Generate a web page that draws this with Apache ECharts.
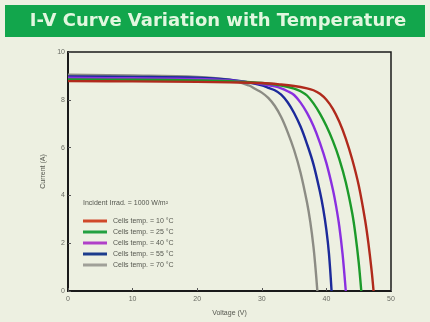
<!DOCTYPE html>
<html><head><meta charset="utf-8">
<script src="https://cdn.jsdelivr.net/npm/echarts@6/dist/echarts.min.js"></script>
<style>html,body{margin:0;padding:0;background:#edf0e1;}#c{width:430px;height:322px;}</style>
</head><body><div id="c"></div>
<script>
const titleText = "I-V Curve Variation with Temperature";
const legendHeader = "Incident Irrad. = 1000 W/m²";
const seriesNames = ["Cells temp. = 10 °C","Cells temp. = 25 °C","Cells temp. = 40 °C","Cells temp. = 55 °C","Cells temp. = 70 °C"];
const seriesColors = ["#b02a1c","#1c9a2a","#8a30e0","#1c2a9a","#8c8c84"];
const legendColors = ["#d0482a","#22a040","#b040c8","#1c3c8c","#a0a098"];
const xTicks = [0,10,20,30,40,50];
const yTicks = [0,2,4,6,8,10];

const v10 = [0,10,20,25,30,33,35,37,38,39,40,41,42,43,44,45,46,46.5,47,47.3];
const i10 = [8.78,8.77,8.75,8.73,8.70,8.64,8.58,8.48,8.40,8.25,8.0,7.62,7.08,6.38,5.5,4.42,2.95,2.0,0.85,0];
const v25 = [0,10,20,25,30,33,35,36,37,38,39,40,41,42,43,44,44.5,45,45.4];
const i25 = [8.85,8.84,8.81,8.78,8.70,8.6,8.47,8.36,8.18,7.85,7.42,6.9,6.28,5.52,4.55,3.25,2.35,1.2,0];
const v40 = [0,10,20,25,28,30,32,33,34,35,36,37,38,39,40,41,41.5,42,42.5,43];
const i40 = [8.92,8.9,8.87,8.81,8.73,8.66,8.56,8.48,8.36,8.2,7.88,7.45,6.9,6.2,5.35,4.25,3.55,2.7,1.55,0];
const v55 = [0,10,20,25,28,30,31,32,33,34,35,36,37,38,39,39.5,40,40.4,40.8];
const i55 = [8.98,8.96,8.92,8.84,8.72,8.6,8.5,8.4,8.22,7.9,7.45,6.88,6.15,5.3,4.15,3.45,2.55,1.55,0];
const v70 = [0,10,20,25,28,29,30,31,32,33,34,35,36,37,37.5,38,38.3,38.6];
const i70 = [9.05,9.02,8.96,8.84,8.6,8.45,8.3,8.08,7.75,7.28,6.65,5.9,4.95,3.7,2.9,1.85,1.0,0];

const allV = [v10,v25,v40,v55,v70];
const allI = [i10,i25,i40,i55,i70];

const chart = echarts.init(document.getElementById('c'));
const series = seriesNames.map((n,k)=>({
  name:n, type:'line', showSymbol:false, smooth:0.35,
  data: allV[k].map((v,j)=>[v, allI[k][j]]),
  lineStyle:{color:seriesColors[k], width:2.4},
  itemStyle:{color:legendColors[k]},
  z: 5 - k
}));
chart.setOption({
  backgroundColor:'#edf0e1',
  animation:false,
  graphic:[
    {type:'rect', shape:{x:5,y:5,width:420,height:32}, style:{fill:'#12a64c'}},
    {type:'text', x:218, y:21, style:{text:titleText, fill:'#e2f7df', font:'bold 18px "DejaVu Sans"', align:'center', verticalAlign:'middle'}},
    {type:'text', x:83, y:203, style:{text:legendHeader, fill:'#55574f', font:'7px "Liberation Sans"', verticalAlign:'middle'}, z:10}
  ],
  grid:{left:68,right:39,top:52,bottom:25,show:true,borderColor:'#1a1a1a',borderWidth:1.5,backgroundColor:'transparent'},
  legend:{
    orient:'vertical', left:78, top:212, itemWidth:24, itemHeight:3, itemGap:3, icon:'rect',
    data: seriesNames.map((n,k)=>({name:n, itemStyle:{color:legendColors[k]}})),
    textStyle:{fontSize:7, color:'#55574f', fontFamily:'Liberation Sans', lineHeight:8, padding:[0,0,0,1]}
  },
  xAxis:{type:'value', min:0, max:50, interval:10, name:'Voltage (V)', nameLocation:'middle', nameGap:19,
    nameTextStyle:{fontSize:7,color:'#55574f',fontFamily:'Liberation Sans'},
    axisLine:{lineStyle:{color:'#1a1a1a',width:2}}, axisTick:{inside:true,length:3,lineStyle:{color:'#555'}},
    axisLabel:{fontSize:7,color:'#6a6c64',margin:5,fontFamily:'Liberation Sans'}, splitLine:{show:false}},
  yAxis:{type:'value', min:0, max:10, interval:2, name:'Current (A)', nameLocation:'middle', nameGap:20,
    nameTextStyle:{fontSize:7,color:'#55574f',fontFamily:'Liberation Sans'},
    axisLine:{lineStyle:{color:'#1a1a1a',width:2}}, axisTick:{inside:true,length:3,lineStyle:{color:'#555'}},
    axisLabel:{fontSize:7,color:'#6a6c64',margin:3,fontFamily:'Liberation Sans'}, splitLine:{show:false}},
  series: series
});
</script></body></html>
